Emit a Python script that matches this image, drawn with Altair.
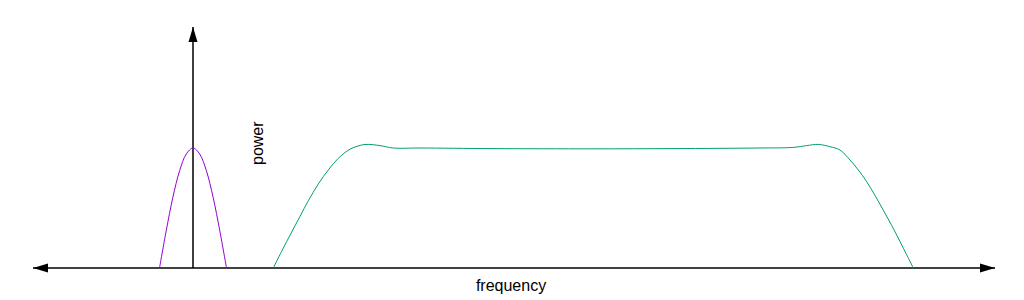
import altair as alt
import pandas as pd

# frequency units (1 unit = 10 px), power units (peak = 1)
purple_f = [-3.35, -2.68, -2.01, -1.34, -0.67, 0.0, 0.67, 1.34, 2.01, 2.68, 3.35]
purple_p = [0.0, 0.31, 0.59, 0.81, 0.95, 1.0, 0.95, 0.81, 0.59, 0.31, 0.0]

teal_f = [8.03, 8.87, 9.87, 10.7, 11.53, 12.53, 13.53, 14.53, 15.7, 16.87, 17.53, 18.7,
          20.03, 22.7, 30.0, 40.0, 48.0, 56.7, 60.03, 61.37, 62.53, 63.7, 64.7, 65.7,
          66.53, 67.37, 68.2, 69.03, 69.87, 70.7, 71.37, 72.03]
teal_p = [0.0, 0.14, 0.30, 0.43, 0.56, 0.70, 0.817, 0.914, 0.99, 1.025, 1.03, 1.02,
          1.0, 1.0, 0.995, 0.993, 0.995, 1.0, 1.005, 1.02, 1.03, 1.011, 0.983, 0.9,
          0.817, 0.719, 0.605, 0.482, 0.355, 0.22, 0.11, 0.0]

axis_left, axis_right, axis_top = -16.0, 80.2, 2.008
labels = ["power", "frequency"]

X_DOM = [-19.3, 83.1]
Y_DOM = [-0.2667, 2.2333]
xs = alt.Scale(domain=X_DOM, nice=False, zero=False)
ys = alt.Scale(domain=Y_DOM, nice=False, zero=False)

purple = pd.DataFrame({"f": purple_f, "p": purple_p})
teal = pd.DataFrame({"f": teal_f, "p": teal_p})

base_x = lambda f: alt.X(f, type="quantitative", scale=xs, axis=None)
base_y = lambda f: alt.Y(f, type="quantitative", scale=ys, axis=None)

hrule = alt.Chart(pd.DataFrame({"x1": [axis_left], "x2": [axis_right], "y": [0.0]})).mark_rule(
    color="black", strokeWidth=1.5
).encode(x=base_x("x1"), x2="x2", y=base_y("y"))

vrule = alt.Chart(pd.DataFrame({"x": [0.0], "y1": [0.0], "y2": [axis_top]})).mark_rule(
    color="black", strokeWidth=1.5
).encode(x=base_x("x"), y=base_y("y1"), y2="y2")

def head(x, y, path):
    return alt.Chart(pd.DataFrame({"x": [x], "y": [y]})).mark_point(
        shape=path, size=225, filled=True, color="black", opacity=1, strokeWidth=0
    ).encode(x=base_x("x"), y=base_y("y"))

left_head = head(axis_left, 0.0, "M 0 0 L 2 -0.6 L 2 0.6 Z")
right_head = head(axis_right, 0.0, "M 0 0 L -2 -0.6 L -2 0.6 Z")
up_head = head(0.0, axis_top, "M 0 0 L -0.6 2 L 0.6 2 Z")

purple_line = alt.Chart(purple).mark_line(
    color="#9400d3", strokeWidth=1, interpolate="catmull-rom"
).encode(x=base_x("f"), y=base_y("p"))

teal_line = alt.Chart(teal).mark_line(
    color="#009e73", strokeWidth=1, interpolate="catmull-rom"
).encode(x=base_x("f"), y=base_y("p"))

power_txt = alt.Chart(pd.DataFrame({"x": [6.5], "y": [1.04], "t": [labels[0]]})).mark_text(
    angle=270, fontSize=16, font="Liberation Sans", color="black", align="center", baseline="middle"
).encode(x=base_x("x"), y=base_y("y"), text="t:N")

freq_txt = alt.Chart(pd.DataFrame({"x": [31.8], "y": [-0.15], "t": [labels[1]]})).mark_text(
    fontSize=16, font="Liberation Sans", color="black", align="center", baseline="middle"
).encode(x=base_x("x"), y=base_y("y"), text="t:N")

chart = alt.layer(
    hrule, vrule, left_head, right_head, up_head, purple_line, teal_line, power_txt, freq_txt
).properties(
    width=1024, height=300, padding=0, autosize=alt.AutoSizeParams(type="none"),
    background="white"
).configure_view(stroke=None)

chart.save("out.html", embed_options={"renderer": "svg", "actions": False})
